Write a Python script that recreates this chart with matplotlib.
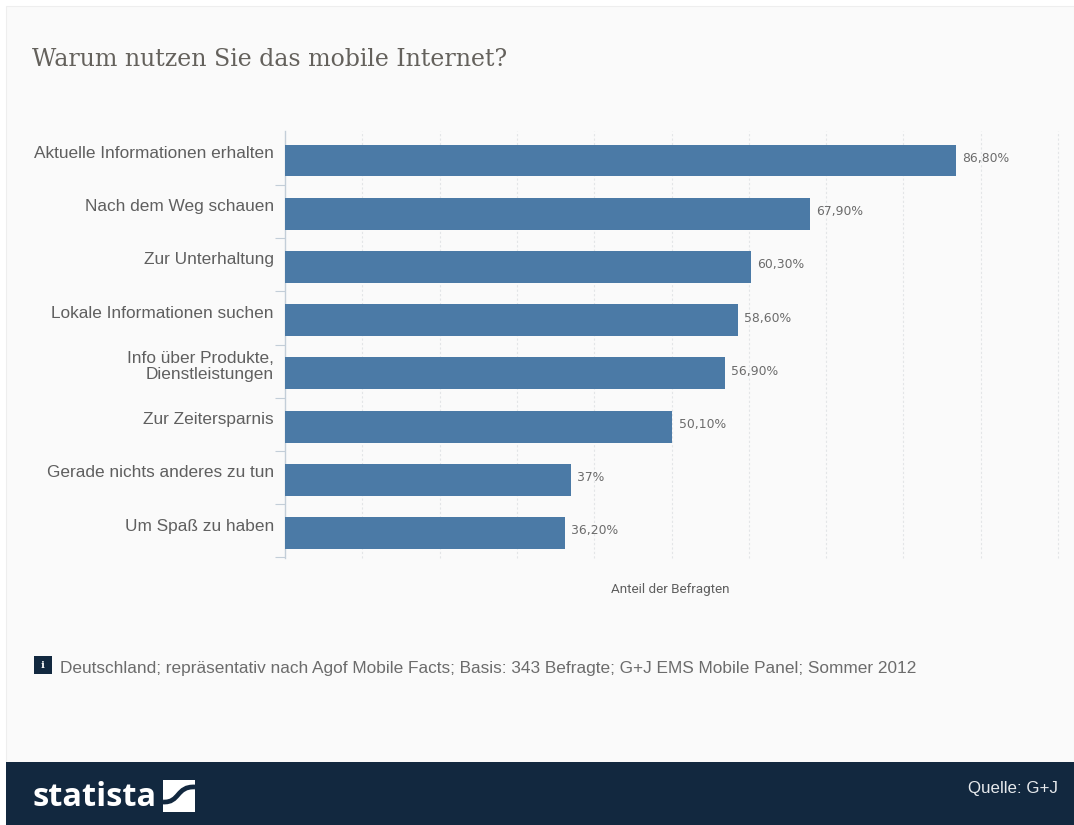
import matplotlib
matplotlib.use("Agg")
import matplotlib.pyplot as plt
from matplotlib.patches import Rectangle, PathPatch
from matplotlib.path import Path

categories = [
    "Aktuelle Informationen erhalten",
    "Nach dem Weg schauen",
    "Zur Unterhaltung",
    "Lokale Informationen suchen",
    "Info über Produkte,\nDienstleistungen",
    "Zur Zeitersparnis",
    "Gerade nichts anderes zu tun",
    "Um Spaß zu haben",
]
values = [86.8, 67.9, 60.3, 58.6, 56.9, 50.1, 37.0, 36.2]
value_labels = ["86,80%", "67,90%", "60,30%", "58,60%", "56,90%", "50,10%", "37%", "36,20%"]

W, H = 1074, 825
PANEL = "#fafafa"
NAVY = "#12283f"
BAR = "#4b7aa6"
TEXT = "#5f5f5f"

fig = plt.figure(figsize=(W / 100, H / 100), dpi=100, facecolor="#ffffff")


def fx(px):
    return px / W


def fy(py):
    return 1 - py / H


# Page panel and footer band sit behind everything else
fig.add_artist(Rectangle((fx(6), fy(825)), fx(1068), 819 / H, transform=fig.transFigure,
                         fc=PANEL, ec="#eeeeee", lw=0.8, zorder=-2))
fig.add_artist(Rectangle((fx(6), 0), fx(1068), (825 - 762) / H, transform=fig.transFigure,
                         fc=NAVY, ec="none", zorder=-1))

fig.text(fx(32), fy(59.5), "Warum nutzen Sie das mobile Internet?", family="DejaVu Serif",
         fontsize=17, color="#64615c", va="center", ha="left")

# Bar chart
ax = fig.add_axes([fx(285), fy(558), fx(1058 - 285), (558 - 131) / H])
ax.set_facecolor("none")
positions = list(range(len(values)))
ax.barh(positions, values, height=0.6, color=BAR, zorder=3)
ax.set_xlim(0, 100)
ax.set_ylim(7.47, -0.554)

for side in ("top", "right", "bottom"):
    ax.spines[side].set_visible(False)
ax.spines["left"].set_color("#c3ced8")
ax.spines["left"].set_linewidth(1)

ax.set_xticks(range(10, 101, 10))
ax.tick_params(axis="x", length=0, labelbottom=False)
ax.grid(axis="x", color="#e3e5e7", lw=0.8, ls=(0, (2, 2)), zorder=0)
for line in ax.get_xgridlines():
    line.set_clip_on(False)

ax.set_yticks([p + 0.46 for p in positions])
ax.tick_params(axis="y", length=7, width=0.8, color="#c3ced8", labelleft=False)

for p, cat, val, lab in zip(positions, categories, values, value_labels):
    ax.annotate(cat, (0, p), xytext=(-8, 5), textcoords="offset points",
                ha="right", va="center", family="Liberation Sans", fontsize=12.45,
                color=TEXT, linespacing=1.1, multialignment="right")
    ax.annotate(lab, (val, p), xytext=(4.5, 1.5), textcoords="offset points",
                ha="left", va="center", family="DejaVu Sans", fontsize=8.9,
                color="#6b6b6b", zorder=4)

fig.text(fx(670), fy(590), "Anteil der Befragten", family="Roboto", fontsize=9.7,
         color=TEXT, ha="center", va="center")

# Info badge and source note
fig.add_artist(Rectangle((fx(34), fy(674)), 18 / W, 18 / H, transform=fig.transFigure,
                         fc=NAVY, ec="none"))
fig.text(fx(43), fy(665), "i", family="DejaVu Serif", fontsize=7.5, fontweight="bold",
         color="white", ha="center", va="center")
fig.text(fx(60), fy(668.5), "Deutschland; repräsentativ nach Agof Mobile Facts; Basis: 343 Befragte; "
         "G+J EMS Mobile Panel; Sommer 2012", family="Liberation Sans", fontsize=12.45,
         color="#6c6c6c", ha="left", va="center")

# Footer branding: wordmark, white square and the dark S-curve across it
fig.text(fx(33), fy(797), "statista", family="Open Sans", fontsize=23.4,
         fontweight="bold", color="white", ha="left", va="center")
fig.add_artist(Rectangle((fx(163), fy(812)), 32 / W, 32 / H, transform=fig.transFigure,
                         fc="white", ec="none"))
swoosh = Path([(fx(163), fy(802)), (fx(180), fy(803)), (fx(176), fy(786)), (fx(195), fy(787))],
              [Path.MOVETO, Path.CURVE4, Path.CURVE4, Path.CURVE4])
fig.add_artist(PathPatch(swoosh, transform=fig.transFigure, fc="none", ec=NAVY, lw=3.4,
                         capstyle="butt"))
fig.text(fx(1058), fy(789), "Quelle: G+J", family="Liberation Sans", fontsize=12.2,
         color="#e6e9ec", ha="right", va="center")

fig.savefig("out.png", dpi=100, facecolor=fig.get_facecolor())
